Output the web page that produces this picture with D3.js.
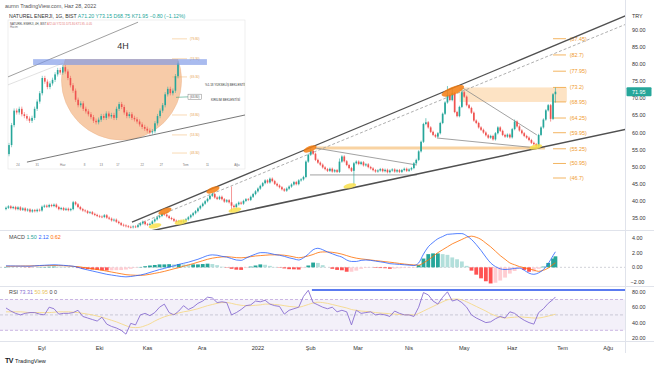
<!DOCTYPE html>
<html>
<head>
<meta charset="utf-8">
<script src="https://cdn.jsdelivr.net/npm/d3@7"></script>
<style>
html, body { margin: 0; padding: 0; background: #fff; }
svg { display: block; font-family: "Liberation Sans", Arial, sans-serif; }
</style>
</head>
<body>
<div id="chart"></div>
<script>
// Günlük kapanışlar (açılış = önceki kapanış)
const closes = [
  38.0, 38.4, 37.9, 38.2, 37.6, 38.1, 37.4, 37.8, 37.2, 37.5, 36.9,
  37.3, 37.0, 37.4, 37.2, 38.3, 38.6, 38.3, 38.8, 38.5, 38.9,
  38.2, 37.6, 37.9, 37.4, 37.7, 37.3, 37.6, 39.6, 39.0,
  38.2, 37.6, 37.2, 37.0, 36.5, 36.7, 36.2, 35.9, 35.6, 35.4,
  35.3, 35.8, 35.1, 34.8, 34.3, 34.5, 33.9, 33.5, 33.0, 32.8,
  32.6, 32.4, 32.3, 32.5, 32.4, 32.9, 33.4, 33.9, 33.2, 33.0,
  33.3, 34.0, 34.6, 35.2, 35.6, 36.2, 36.0, 35.5, 35.0,
  34.7, 34.2, 33.9, 34.1, 33.8, 34.2, 34.6,
  35.2, 35.8, 36.4, 37.0, 37.8, 38.5, 39.2, 39.9, 40.6, 41.5, 42.0,
  41.0, 40.6, 41.2, 40.5, 39.8, 40.2, 39.6, 38.6,
  38.2, 39.0, 39.5, 39.2, 40.0, 40.5, 40.3,
  41.2, 42.0, 42.8, 43.6, 44.4, 45.2, 46.0, 45.4, 46.5, 45.8,
  45.0, 44.5, 44.0, 43.4, 43.0, 43.6, 44.2, 44.8, 45.5, 44.9, 46.0,
  46.3, 47.0, 51.5, 53.5, 54.6, 53.8,
  52.0, 51.2, 50.6, 49.8, 49.3, 48.8, 49.4, 48.6, 49.0, 48.5,
  51.5, 53.0, 51.6, 50.5, 49.6, 48.8, 51.0,
  51.5, 50.8, 51.3, 50.4, 50.7, 49.9, 49.5, 49.0, 48.6, 48.9,
  49.3, 48.7, 49.1, 48.4, 48.9, 49.2, 48.6, 49.0, 48.5,
  49.0, 49.4, 48.8, 49.2, 49.6, 51.0, 52.0, 54.5, 57.3,
  62.5, 63.0, 61.5, 60.2, 59.3, 58.8, 59.8, 62.8, 65.5, 68.8,
  71.0, 69.5, 71.5, 66.0, 64.8, 67.5, 71.8, 70.5,
  68.0, 67.2, 65.8, 63.5, 62.8, 61.5,
  60.8, 60.0, 59.2, 58.5, 59.0, 58.0, 59.8, 61.5, 60.5,
  59.3, 58.8, 59.4, 58.6, 61.0, 63.2,
  61.8, 60.6, 59.8, 59.0, 58.5, 57.8, 57.0, 56.6, 56.0, 59.3,
  61.5, 63.8, 66.5, 68.0, 64.0, 71.2, 71.95
];
const firstOpen = 37.6;
const wickHighs = [[28, 40.0], [94, 44.2], [127, 55.9], [139, 52.4], [175, 64.2], [184, 73.6], [186, 73.2], [190, 72.6], [212, 63.8], [229, 73.15]];
const wickLows = [[94, 36.9], [145, 44.6], [221, 55.4], [227, 63.2], [229, 68.75]];

// MACD, sinyal, RSI ve RSI ortalaması: her 2 mumda bir okundu, son değer son mum
const macdLine = [
  0.20, 0.19, 0.18, 0.17, 0.16, 0.15, 0.20, 0.25, 0.28, 0.32,
  0.35, 0.32, 0.27, 0.22, 0.15, 0.00, -0.20, -0.35, -0.50, -0.65,
  -0.80, -0.95, -1.05, -1.15, -1.25, -1.30, -1.25, -1.15, -1.05, -0.90,
  -0.70, -0.50, -0.30, -0.15, 0.05, 0.20, 0.40, 0.55, 0.70, 0.90,
  1.10, 1.35, 1.60, 1.70, 1.65, 1.50, 1.40, 1.20, 1.00, 0.95,
  1.25, 1.55, 1.80, 2.00, 2.00, 1.90, 1.75, 1.65, 1.50, 1.30,
  1.15, 1.00, 1.30, 1.80, 2.40, 2.60, 2.40, 2.10, 1.85, 1.60,
  1.40, 1.00, 0.80, 0.80, 0.95, 1.00, 0.95, 0.85, 0.75, 0.65,
  0.50, 0.45, 0.40, 0.35, 0.30, 0.25, 0.60, 1.80, 2.80, 3.40,
  3.90, 4.20, 4.50, 4.55, 4.60, 4.60, 4.30, 3.80, 3.10, 2.30,
  1.40, 0.60, 0.10, -0.20, -0.30, -0.25, -0.15, -0.10, -0.40, -0.80,
  -0.95, -0.75, -0.30, 0.50, 1.60, 2.12
];
const signalLine = [
  0.15, 0.15, 0.16, 0.17, 0.18, 0.19, 0.20, 0.21, 0.23, 0.24,
  0.25, 0.24, 0.22, 0.18, 0.13, 0.10, 0.00, -0.10, -0.20, -0.30,
  -0.40, -0.52, -0.64, -0.76, -0.88, -1.00, -1.05, -1.08, -1.10, -1.05,
  -0.95, -0.82, -0.70, -0.55, -0.38, -0.20, -0.05, 0.15, 0.33, 0.50,
  0.70, 0.90, 1.10, 1.25, 1.35, 1.42, 1.45, 1.40, 1.32, 1.30,
  1.35, 1.45, 1.55, 1.60, 1.65, 1.70, 1.70, 1.70, 1.65, 1.55,
  1.42, 1.30, 1.40, 1.55, 1.75, 2.00, 2.10, 2.10, 2.05, 1.95,
  1.80, 1.60, 1.40, 1.25, 1.15, 1.08, 1.00, 0.92, 0.85, 0.77,
  0.70, 0.62, 0.53, 0.45, 0.38, 0.33, 0.30, 0.60, 1.00, 1.50,
  2.00, 2.40, 2.80, 3.20, 3.50, 3.80, 4.10, 4.25, 4.10, 3.80,
  3.30, 2.80, 2.20, 1.60, 1.10, 0.60, 0.35, 0.10, -0.05, -0.20,
  -0.38, -0.55, -0.40, -0.10, 0.40, 0.62
];
const rsiLine = [
  59, 55, 52, 50, 52, 53, 53, 51, 50, 60,
  58, 51, 52, 52, 53, 56, 48, 46, 44, 42,
  47, 38, 35, 33, 30, 25, 39, 37, 50, 52,
  49, 53, 60, 64, 53, 50, 55, 62, 57, 60,
  65, 68, 73, 72, 66, 67, 66, 50, 53, 57,
  62, 63, 68, 67, 69, 64, 62, 61, 51, 56,
  58, 60, 74, 82, 66, 63, 60, 58, 60, 54,
  56, 54, 37, 56, 52, 53, 54, 50, 51, 50,
  48, 55, 52, 50, 50, 48, 60, 79, 76, 68,
  64, 73, 80, 68, 70, 66, 60, 50, 46, 43,
  40, 41, 45, 48, 46, 54, 52, 47, 43, 40,
  38, 53, 58, 65, 70, 73.31
];
const rsiMa = [
  54, 54, 54, 54, 53.5, 53, 53, 53, 53, 53,
  53.5, 54, 54, 54, 53.5, 53, 52, 51, 50, 48.5,
  47, 45, 43, 41, 38.5, 36, 34, 33.5, 34, 36,
  38.5, 42, 45, 47.5, 49.5, 51, 52.5, 54, 55, 56.5,
  58, 60, 62, 63.5, 65, 66, 66, 65, 63.5, 62.5,
  62, 62, 62.5, 63, 64, 64, 63.5, 63, 62, 61,
  60.5, 60, 61.5, 63.5, 65.5, 66.5, 66, 65, 63.5, 62,
  60.5, 59, 57, 56, 55, 54.5, 54, 53, 52.5, 52,
  51.5, 51, 50.5, 50.3, 50, 50, 52, 55, 58, 61,
  64, 67, 69.5, 70.5, 70.5, 69.5, 67, 64, 61, 58,
  55, 51.5, 49, 47, 46, 46.5, 47, 47.5, 47, 46.5,
  46, 46, 47, 48.5, 50, 50.95
];

// Zaman ekseni etiketleri (mum sırası)
const monthLabels = ['Eyl', 'Eki', 'Kas', 'Ara', '2022', 'Şub', 'Mar', 'Nis', 'May', 'Haz', 'Tem', 'Ağu'];
const monthIdx = [15, 39, 59, 81.7, 105, 127, 146.7, 168, 191, 211, 232, 251];
const priceTicks = [35, 40, 45, 50, 55, 60, 65, 70, 75, 80, 85, 90];
const macdTicks = [-2, 0, 2, 4];
const rsiTicks = [20, 40, 60, 80];

// Çizimler (mum sırası, fiyat)
const upperLine = [[52.5, 33.8], [258.75, 94.3]];
const dashLine = [[55, 33.2], [258.75, 91.8]];
const lowerLine = [[58.75, 30.97], [258.75, 60.98]];
const triTop = [[128.75, 55.5], [171.25, 50.5]];
const triBase = [[126.7, 47.6], [171.25, 47.6]];
const flagTop = [[190.4, 73.0], [221.25, 59.3]];
const flagBase = [[179.6, 58.4], [221.25, 55.5]];
const supportBand = [[128.75, 55.5], [224.6, 55.5]];
const zoneBox = [[189, 73.2], [233.75, 68.95]];
const topMarks = [[66.25, 37.0], [86.25, 43.2], [126.7, 55.2], [186.25, 72.2]];
const lowMarks = [[62.1, 32.7], [72.9, 33.8], [95.4, 37.3], [143.3, 44.4], [220.8, 55.8]];
const fibLevels = [87.45, 82.7, 77.95, 73.2, 68.95, 64.25, 59.95, 55.25, 50.95, 46.7];
const fibTexts = ['(87.45)', '(82.7)', '(77.95)', '(73.2)', '(68.95)', '(64.25)', '(59.95)', '(55.25)', '(50.95)', '(46.7)'];
const rsiHighLine = [[127.5, 82.5], [258, 82.5]];

// 4S ekran görüntüsü (iç grafik)
const insetCloses = [
  50.5, 56.0, 60.0, 59.5, 60.5, 59.0, 58.5, 57.8, 57.2, 58.0,
  60.5, 62.5, 64.8, 69.0, 68.0, 66.5, 67.5, 68.5, 70.0, 71.2,
  70.5, 72.0, 70.8, 69.0, 67.0, 65.5, 63.0, 61.5, 62.0, 60.5,
  59.8, 59.0, 58.2, 57.2, 56.8, 57.5, 58.5, 58.0, 59.2, 58.4,
  58.8, 58.0, 60.5, 61.8, 61.0, 59.5, 58.5, 59.0, 58.0, 57.6,
  57.0, 56.2, 55.5, 55.0, 54.5, 54.0, 54.3, 56.5, 58.5, 60.0,
  61.5, 64.5, 66.0, 64.8, 65.5, 69.5, 73.0
];
const insetUpper = [[-0.4, 69.3], [50.4, 84.4]];
const insetUpper2 = [[-0.4, 67.1], [21.1, 73.1]];
const insetLower = [[7, 45.8], [92.2, 58.8]];
const insetBand = [[9.4, 74.2], [77.3, 72.6]];
const insetBowl = { left: 20.5, right: 67.4, centre: 68.4, bottom: 51.9 };
const insetFib = [79.8, 74.3, 69.3, 63.8, 58.8, 53.3, 48.3];
const insetTimeLabels = ['24', '31', 'Haz', '8', '13', '17', '22', '27', 'Tem', '11', 'Ağu'];
const insetTimeIdx = [3.5, 11, 21, 29.5, 36, 42.5, 52, 59.5, 69, 77.5, 89];

const W = 654, H = 366, plotR = 625;
const up = '#26a69a', down = '#ef5350';
const wickPad = 0.35;
const sampleIdx = i => Math.min(i * 2, 229);

const svg = d3.select('#chart').append('svg').attr('width', W).attr('height', H);
const defs = svg.append('defs');
const clip = (id, x, y, w, h) => defs.append('clipPath').attr('id', id)
  .append('rect').attr('x', x).attr('y', y).attr('width', w).attr('height', h);
clip('cMain', 0, 0, plotR, 230);
clip('cMacd', 0, 231, plotR, 55);
clip('cRsi', 0, 287, plotR, 54);
clip('cInset', 8, 20, 237, 149);
clip('cBowl', 0, 59.1, 654, 200);

const x = d3.scaleLinear().domain([-2.5, 258]).range([0, plotR]);
const yP = d3.scaleLinear().domain([35, 90]).range([218, 30]);
const yM = d3.scaleLinear().domain([-2, 4]).range([282, 238]);
const yR = d3.scaleLinear().domain([20, 80]).range([338, 291.8]);

// çerçeve
const frame = svg.append('g').attr('stroke', '#e0e3eb').attr('stroke-width', 1);
[230.5, 286.5, 341.5].forEach(y => frame.append('line').attr('x1', 0).attr('x2', W).attr('y1', y).attr('y2', y));
frame.append('line').attr('x1', plotR + 0.5).attr('x2', plotR + 0.5).attr('y1', 0).attr('y2', 353);

// ---- ana grafik
const main = svg.append('g').attr('clip-path', 'url(#cMain)');
const seg = (g, pts, sx, sy) => g.append('line')
  .attr('x1', sx(pts[0][0])).attr('y1', sy(pts[0][1]))
  .attr('x2', sx(pts[1][0])).attr('y2', sy(pts[1][1]));

main.append('rect')
  .attr('x', x(zoneBox[0][0])).attr('y', yP(zoneBox[0][1]))
  .attr('width', x(zoneBox[1][0]) - x(zoneBox[0][0]))
  .attr('height', yP(zoneBox[1][1]) - yP(zoneBox[0][1]))
  .attr('fill', '#fcd9b0').attr('opacity', 0.75);
seg(main, supportBand, x, yP).attr('stroke', '#f8c98c').attr('stroke-width', 3).attr('opacity', 0.8);

const fibG = main.append('g');
fibLevels.forEach((p, i) => {
  fibG.append('line').attr('x1', x(228)).attr('x2', x(233.4)).attr('y1', yP(p)).attr('y2', yP(p))
    .attr('stroke', '#f0a23a').attr('stroke-width', 0.8);
  fibG.append('text').attr('x', x(235)).attr('y', yP(p) + 2).attr('font-size', 5.4)
    .attr('fill', '#ef9a2c').text(fibTexts[i]);
});

[triTop, triBase, flagTop, flagBase].forEach(l => seg(main, l, x, yP).attr('stroke', '#8a8a8a').attr('stroke-width', 0.8));
seg(main, dashLine, x, yP).attr('stroke', '#9a9a9a').attr('stroke-width', 0.8).attr('stroke-dasharray', '3,2');
seg(main, upperLine, x, yP).attr('stroke', '#505050').attr('stroke-width', 1.3);
seg(main, lowerLine, x, yP).attr('stroke', '#505050').attr('stroke-width', 1.5);

const hiMap = new Map(wickHighs), loMap = new Map(wickLows);
const candles = closes.map((c, i) => {
  const o = i ? closes[i - 1] : firstOpen;
  return { i, o, c,
    h: hiMap.has(i) ? hiMap.get(i) : Math.max(o, c) + wickPad,
    l: loMap.has(i) ? loMap.get(i) : Math.min(o, c) - wickPad };
});
const cg = main.append('g');
cg.selectAll('line').data(candles).join('line')
  .attr('x1', d => x(d.i)).attr('x2', d => x(d.i))
  .attr('y1', d => yP(d.h)).attr('y2', d => yP(d.l))
  .attr('stroke', d => d.c >= d.o ? up : down).attr('stroke-width', 0.6);
cg.selectAll('rect').data(candles).join('rect')
  .attr('x', d => x(d.i) - 0.85).attr('width', 1.7)
  .attr('y', d => yP(Math.max(d.o, d.c)))
  .attr('height', d => Math.max(0.7, Math.abs(yP(d.o) - yP(d.c))))
  .attr('fill', d => d.c >= d.o ? up : down);

main.append('g').selectAll('ellipse').data(topMarks).join('ellipse')
  .attr('transform', d => `translate(${x(d[0])},${yP(d[1])}) rotate(-22)`)
  .attr('rx', (d, i) => i === topMarks.length - 1 ? 12 : 7)
  .attr('ry', (d, i) => i === topMarks.length - 1 ? 4 : 2.8)
  .attr('fill', '#f57c0f').attr('opacity', 0.85);
main.append('g').selectAll('ellipse').data(lowMarks).join('ellipse')
  .attr('transform', d => `translate(${x(d[0])},${yP(d[1])}) rotate(-12)`)
  .attr('rx', 6.5).attr('ry', 2.4)
  .attr('fill', '#f9e04b').attr('opacity', 0.85);

// ---- 4S iç grafik
const inset = svg.append('g');
inset.append('rect').attr('x', 8).attr('y', 20).attr('width', 237).attr('height', 149)
  .attr('fill', '#fff').attr('stroke', '#e4e4e4').attr('stroke-width', 0.6);
const ib = inset.append('g').attr('clip-path', 'url(#cInset)');
const ix = d3.scaleLinear().domain([0, 66]).range([9, 178]);
const iy = d3.scaleLinear().domain([45, 85]).range([165, 20]);

const bowlR = (ix(insetBowl.right) - ix(insetBowl.left)) / 2;
ib.append('ellipse').attr('clip-path', 'url(#cBowl)')
  .attr('cx', (ix(insetBowl.left) + ix(insetBowl.right)) / 2).attr('cy', iy(insetBowl.centre))
  .attr('rx', bowlR).attr('ry', iy(insetBowl.bottom) - iy(insetBowl.centre))
  .attr('fill', '#f6c39a').attr('opacity', 0.85).attr('stroke', '#eaa878').attr('stroke-width', 0.5);

seg(ib, insetUpper, ix, iy).attr('stroke', '#777').attr('stroke-width', 0.7);
seg(ib, insetUpper2, ix, iy).attr('stroke', '#ccc').attr('stroke-width', 0.6);
seg(ib, insetLower, ix, iy).attr('stroke', '#555').attr('stroke-width', 0.8);

// kutulu etiket, 4. Fibonacci seviyesini çevreler
const boxedFib = 3;
ib.append('line').attr('x1', 176).attr('x2', 188).attr('y1', iy(insetFib[boxedFib]) + 0.5).attr('y2', iy(insetFib[boxedFib]))
  .attr('stroke', '#3aa17e').attr('stroke-width', 0.6);
ib.append('rect').attr('x', 188).attr('y', iy(insetFib[boxedFib]) - 2.7).attr('width', 13.5).attr('height', 5.4)
  .attr('fill', '#fff').attr('stroke', '#666').attr('stroke-width', 0.4);
insetFib.forEach((p, i) => {
  if (i !== boxedFib) {
    ib.append('line').attr('x1', 172).attr('x2', 187).attr('y1', iy(p)).attr('y2', iy(p))
      .attr('stroke', '#f3b56a').attr('stroke-width', 0.5);
  }
  ib.append('text').attr('x', 190).attr('y', iy(p) + 1).attr('font-size', 3)
    .attr('fill', i === boxedFib ? '#555' : '#e8a04a').text(`(${p.toFixed(2)})`);
});

const icandles = insetCloses.map((c, i) => {
  const o = i ? insetCloses[i - 1] : 48;
  return { i, o, c, h: Math.max(o, c) + 0.6, l: Math.min(o, c) - 0.6 };
});
ib.append('g').selectAll('line').data(icandles).join('line')
  .attr('x1', d => ix(d.i)).attr('x2', d => ix(d.i))
  .attr('y1', d => iy(d.h)).attr('y2', d => iy(d.l))
  .attr('stroke', d => d.c >= d.o ? up : down).attr('stroke-width', 0.5);
ib.append('g').selectAll('rect').data(icandles).join('rect')
  .attr('x', d => ix(d.i) - 0.8).attr('width', 1.6)
  .attr('y', d => iy(Math.max(d.o, d.c)))
  .attr('height', d => Math.max(0.6, Math.abs(iy(d.o) - iy(d.c))))
  .attr('fill', d => d.c >= d.o ? up : down);

ib.append('rect')
  .attr('x', ix(insetBand[0][0])).attr('y', iy(insetBand[0][1]))
  .attr('width', ix(insetBand[1][0]) - ix(insetBand[0][0]))
  .attr('height', iy(insetBand[1][1]) - iy(insetBand[0][1]))
  .attr('fill', '#7b96e6').attr('opacity', 0.65);

ib.append('text').attr('x', 123).attr('y', 49).attr('text-anchor', 'middle')
  .attr('font-size', 9).attr('fill', '#333').text('4H');
ib.append('text').attr('x', 205).attr('y', 86).attr('font-size', 3).attr('fill', '#333').text('%1.18 YÜKSELİŞ BEKLENTİSİ');
ib.append('text').attr('x', 211).attr('y', 101).attr('font-size', 3).attr('fill', '#333').text('KIRILIM BEKLENTİSİ');
ib.append('text').attr('x', 10).attr('y', 24.5).attr('font-size', 2.8).attr('fill', '#444')
  .text('NATUREL ENERJI, 4H, BIST ').append('tspan').attr('fill', '#e57373').text('A72.00 Y72.55 D71.80 K71.95 -0.05');
ib.append('text').attr('x', 10).attr('y', 28).attr('font-size', 2.8).attr('fill', '#777').text('Hacim');
ib.append('g').selectAll('text').data(insetTimeLabels).join('text')
  .attr('x', (d, i) => ix(insetTimeIdx[i])).attr('y', 165.5).attr('text-anchor', 'middle')
  .attr('font-size', 3).attr('fill', '#777').text(d => d);

// ---- MACD
const macd = svg.append('g').attr('clip-path', 'url(#cMacd)');
macd.append('line').attr('x1', 0).attr('x2', plotR).attr('y1', yM(0)).attr('y2', yM(0))
  .attr('stroke', '#b2b5be').attr('stroke-dasharray', '2,2').attr('stroke-width', 0.6);
const hist = macdLine.map((m, i) => m - signalLine[i]);
macd.append('g').selectAll('rect').data(hist).join('rect')
  .attr('x', (d, i) => x(sampleIdx(i)) - 1.9).attr('width', 3.8)
  .attr('y', d => yM(Math.max(0, d))).attr('height', d => Math.abs(yM(d) - yM(0)))
  .attr('fill', (d, i) => {
    const prev = i ? hist[i - 1] : d;
    if (d >= 0) return d >= prev ? '#26a69a' : '#b2dfdb';
    return d < prev ? '#ff5252' : '#ffcdd2';
  });
const mLine = d3.line().x((d, i) => x(sampleIdx(i))).y(d => yM(d)).curve(d3.curveMonotoneX);
macd.append('path').attr('d', mLine(signalLine)).attr('fill', 'none').attr('stroke', '#ff6d00').attr('stroke-width', 0.8);
macd.append('path').attr('d', mLine(macdLine)).attr('fill', 'none').attr('stroke', '#2962ff').attr('stroke-width', 0.8);

// ---- RSI
const rsi = svg.append('g').attr('clip-path', 'url(#cRsi)');
rsi.append('rect').attr('x', 0).attr('width', plotR).attr('y', yR(70)).attr('height', yR(30) - yR(70))
  .attr('fill', '#7e57c2').attr('opacity', 0.09);
[70, 50, 30].forEach(v => rsi.append('line').attr('x1', 0).attr('x2', plotR).attr('y1', yR(v)).attr('y2', yR(v))
  .attr('stroke', v === 50 ? '#b8b8c8' : '#b79ad8').attr('stroke-dasharray', '3,2').attr('stroke-width', 0.7));
const rLine = d3.line().x((d, i) => x(sampleIdx(i))).y(d => yR(d));
rsi.append('path').attr('d', rLine.curve(d3.curveMonotoneX)(rsiMa)).attr('fill', 'none').attr('stroke', '#f5d98a').attr('stroke-width', 0.9);
rsi.append('path').attr('d', d3.line().x((d, i) => x(sampleIdx(i))).y(d => yR(d))(rsiLine))
  .attr('fill', 'none').attr('stroke', '#8a6fd1').attr('stroke-width', 0.9);
seg(rsi, rsiHighLine, x, yR).attr('stroke', '#5b7bf0').attr('stroke-width', 2);

// ---- eksenler
const ax = svg.append('g').attr('font-size', 5.4).attr('fill', '#333');
ax.append('text').attr('x', 632).attr('y', 18).text('TRY');
ax.selectAll('.pt').data(priceTicks).join('text').attr('class', 'pt')
  .attr('x', 632).attr('y', d => yP(d) + 2).text(d => d3.format('.2f')(d));
ax.selectAll('.mt').data(macdTicks).join('text').attr('class', 'mt')
  .attr('x', d => d < 0 ? 630.5 : 632).attr('y', d => yM(d) + 2).text(d => d3.format('.2f')(d).replace('-', '−'));
ax.selectAll('.rt').data(rsiTicks).join('text').attr('class', 'rt')
  .attr('x', 632).attr('y', d => yR(d) + 2).text(d => d3.format('.2f')(d));
ax.selectAll('.tt').data(monthLabels).join('text').attr('class', 'tt')
  .attr('x', (d, i) => x(monthIdx[i])).attr('y', 350).attr('text-anchor', 'middle')
  .attr('font-size', 5.6).text(d => d);

const last = closes[closes.length - 1];
svg.append('rect').attr('x', 626.5).attr('y', yP(last) - 4.5).attr('width', 25).attr('height', 9)
  .attr('fill', up).attr('rx', 1);
svg.append('text').attr('x', 632).attr('y', yP(last) + 2).attr('font-size', 5.4).attr('fill', '#fff').text(last.toFixed(2));

// ---- başlıklar
svg.append('text').attr('x', 5).attr('y', 8).attr('font-size', 5.4).attr('fill', '#555')
  .text('aurnn TradingView.com, Haz 28, 2022');
const title = svg.append('text').attr('x', 9).attr('y', 18).attr('font-size', 5.2).attr('fill', '#333');
title.append('tspan').text('NATUREL ENERJI, 1G, BIST  ');
title.append('tspan').attr('fill', up).text('A71.20  Y73.15  D68.75  K71.95  −0.80 (−1.12%)');

const ml = svg.append('text').attr('x', 9).attr('y', 239).attr('font-size', 5.4).attr('fill', '#444');
ml.append('tspan').text('MACD  ');
ml.append('tspan').attr('fill', up).text('1.50  ');
ml.append('tspan').attr('fill', '#2962ff').text('2.12  ');
ml.append('tspan').attr('fill', '#ff6d00').text('0.62');

const rl = svg.append('text').attr('x', 9).attr('y', 294).attr('font-size', 5.4).attr('fill', '#444');
rl.append('tspan').text('RSI  ');
rl.append('tspan').attr('fill', '#8a6fd1').text('73.31  ');
rl.append('tspan').attr('fill', '#e8c35a').text('50.95  ');
rl.append('tspan').text('0  0');

const tv = svg.append('g').attr('transform', 'translate(5,363)');
tv.append('text').attr('font-size', 7).attr('font-weight', 'bold').attr('fill', '#131722').attr('letter-spacing', -0.6).text('TV');
tv.append('text').attr('x', 10).attr('font-size', 5.6).attr('fill', '#131722').text('TradingView');
</script>
</body>
</html>
